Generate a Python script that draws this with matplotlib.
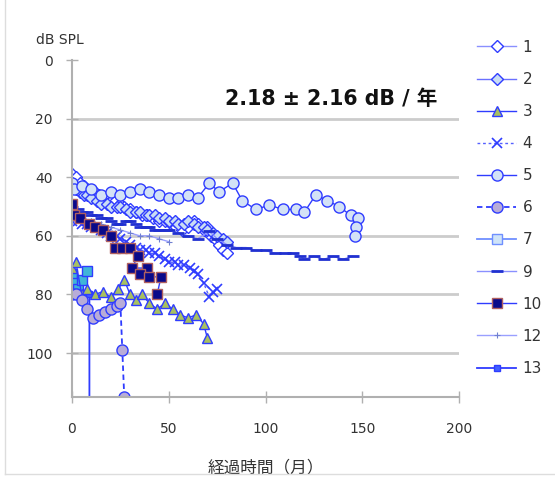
import matplotlib
matplotlib.use("Agg")
import matplotlib.pyplot as plt
from matplotlib.lines import Line2D

plt.rcParams['font.family'] = ['DejaVu Sans', 'Noto Sans CJK JP']

# months / dB SPL for each ear
x1 = [0, 2, 4, 6, 8, 10, 12, 14, 17, 20, 22, 25, 27, 30, 33, 36, 39, 42, 45, 48,
      51, 54, 57, 60, 63, 65, 68, 70, 72, 74, 76, 78, 80]
y1 = [39, 40, 42, 43, 44, 45, 45, 46, 47, 48, 48, 49, 50, 51, 52, 53, 53, 54, 55, 55,
      56, 57, 58, 57, 55, 56, 58, 57, 60, 61, 63, 65, 66]
x2 = [0, 2, 4, 6, 8, 10, 13, 15, 18, 20, 23, 25, 28, 30, 33, 35, 38, 40, 43, 45,
      48, 50, 53, 55, 58, 60, 63, 65, 68, 70, 73, 75, 78, 80]
y2 = [42, 44, 45, 46, 46, 47, 48, 49, 49, 50, 50, 50, 51, 52, 52, 52, 53, 53, 53, 54,
      54, 55, 55, 56, 56, 55, 56, 57, 57, 58, 59, 60, 61, 62]
x3 = [0, 2, 5, 8, 12, 16, 20, 24, 27, 30, 33, 36, 40, 44, 48, 52, 56, 60, 64, 68, 70]
y3 = [71, 69, 80, 78, 80, 79, 81, 78, 75, 80, 82, 80, 83, 85, 83, 85, 87, 88, 87, 90, 95]
x4 = [0, 3, 5, 8, 10, 13, 15, 18, 20, 23, 25, 28, 30, 33, 35, 38, 40, 43, 45, 48,
      50, 53, 55, 58, 61, 63, 65, 68, 71, 73, 75]
y4 = [55, 55, 56, 56, 57, 57, 58, 59, 60, 60, 61, 62, 63, 64, 65, 65, 66, 66, 67, 68,
      69, 69, 70, 70, 71, 72, 73, 76, 81, 79, 78]
x5 = [0, 1, 5, 10, 15, 20, 25, 30, 35, 40, 45, 50, 55, 60, 65, 71, 76, 83, 88,
      95, 102, 109, 116, 120, 126, 132, 138, 144, 148, 147, 146]
y5 = [42, 44, 43, 44, 46, 45, 46, 45, 44, 45, 46, 47, 47, 46, 47, 42, 45, 42, 48,
      51, 49.5, 51, 51, 52, 46, 48, 50, 53, 54, 57, 60]
x6 = [0, 2, 5, 8, 11, 14, 17, 20, 23, 25, 26, 27]
y6 = [80, 80, 82, 85, 88, 87, 86, 85, 84, 83, 99, 115]
x7 = [0, 1, 3, 5, 8]
y7 = [73, 76, 78, 75, 72]
x9 = [0, 3, 5, 8, 10, 13, 15, 18, 20, 23, 25, 28, 30, 33, 35, 38, 40, 43, 45, 48,
      50, 55, 60, 65, 71, 75, 80, 85, 90, 95, 100, 105, 110, 114, 118, 120, 125,
      130, 135, 140, 145]
y9 = [50, 51, 52, 52, 53, 53, 54, 54, 55, 56, 56, 55, 55, 56, 57, 57, 57, 58, 58, 58,
      58, 59, 60, 61, 58.5, 61, 63, 64, 64, 65, 65, 66, 66, 66, 67, 68, 67,
      68, 67, 68, 67]
x10 = [0, 1, 4, 9, 12, 16, 20, 22, 26, 30, 34, 31, 39, 35, 40, 46, 44]
y10 = [49, 53, 54, 56, 57, 58, 60, 64, 64, 64, 67, 71, 71, 73, 74, 74, 80]
x12 = [0, 5, 10, 15, 20, 25, 30, 35, 40, 45, 50]
y12 = [53, 54, 55, 56, 57, 58, 59, 60, 60, 61, 62]
x13 = [0, 2, 5, 9, 9]
y13 = [80, 79, 80, 80, 125]

labels = ["1", "2", "3", "4", "5", "6", "7", "9", "10", "12", "13"]
xticks = [0, 50, 100, 150, 200]
yticks = [0, 20, 40, 60, 80, 100]

fig = plt.figure(figsize=(5.55, 4.79), dpi=100)
ax = fig.add_axes([72/555, 1-397/479, (459-72)/555, (397-60)/479])

blue = "#2f3cff"
h1, = ax.plot(x1, y1, color="#8a90ff", lw=1, marker="D", ms=6, mfc="white", mec=blue, mew=1)
h2, = ax.plot(x2, y2, color="#6a70ff", lw=1, marker="D", ms=6, mfc="#c9dcf4", mec=blue, mew=1)
h4, = ax.plot(x4, y4, color="#5560ff", lw=1, ls=(0, (2, 2)), marker="x", ms=7, mec=blue, mew=1.2)
h5, = ax.plot(x5, y5, color=blue, lw=1, marker="o", ms=8, mfc="#d3e2f6", mec=blue, mew=1)
h9, = ax.plot(x9, y9, color="#8a90ff", lw=1, marker="_", ms=9, mec="#2030d0", mew=2)
h12, = ax.plot(x12, y12, color="#9aa0ff", lw=1, marker="+", ms=4, mec="#7080d0", mew=0.8)
h7, = ax.plot(x7, y7, color=blue, lw=1, marker="s", ms=6.5, mfc="#3fb5d8", mec=blue, mew=1)
h13, = ax.plot(x13, y13, color=blue, lw=1.3, marker="s", ms=4, mfc="#4060ff", mec=blue)
h3, = ax.plot(x3, y3, color=blue, lw=1, marker="^", ms=7, mfc="#a8c060", mec=blue, mew=1)
h6, = ax.plot(x6, y6, color=blue, lw=1.3, ls=(0, (3, 2)), marker="o", ms=8, mfc="#b8acd8", mec=blue, mew=1)
h10, = ax.plot(x10, y10, color=blue, lw=1, marker="s", ms=7, mfc="#0a0a8a", mec="#b06060", mew=1)

h7_leg = Line2D([], [], color="#6f8fff", lw=1.3, marker="s", ms=7, mfc="#cfe4f8", mec="#6f8fff")
leg_handles = [h1, h2, h3, h4, h5, h6, h7_leg, h9, h10, h12, h13]

for v in [20, 40, 60, 80, 100]:
    ax.axhline(v, color="#cccccc", lw=2, zorder=0)

ax.set_xlim(0, 200)
ax.set_ylim(115, 0)
ax.set_xticks(xticks)
ax.set_yticks(yticks)
for s in ["top", "right"]:
    ax.spines[s].set_visible(False)
for s in ["left", "bottom"]:
    ax.spines[s].set_color("#b0b0b0")
    ax.spines[s].set_linewidth(1.5)
ax.tick_params(axis="both", direction="inout", length=8, width=1, color="#b0b0b0",
               labelsize=10, labelcolor="#333333")
ax.tick_params(axis="y", pad=10)
ax.tick_params(axis="x", pad=14)

ax.set_xlabel("経過時間（月）", fontsize=12, color="#333333", labelpad=17,
              family=["Noto Sans CJK JP", "DejaVu Sans"])
fig.text(36/555, 1-40/479, "dB SPL", fontsize=10, color="#333333", va="center")
ax.text(0.395, 0.885, "2.18 ± 2.16 dB / 年", transform=ax.transAxes,
        fontsize=14.8, fontweight="bold", color="#111111", va="center")

fig.legend(leg_handles, labels, loc="upper left", bbox_to_anchor=(463/555, 1-26/479),
           frameon=False, fontsize=11, labelspacing=1.12, handlelength=2.6,
           handletextpad=0.4, labelcolor="#333333")

fig.add_artist(Line2D([5/555, 5/555], [0.01, 1], color="#dddddd", lw=1))
fig.add_artist(Line2D([5/555, 1], [0.01, 0.01], color="#dddddd", lw=1))

fig.savefig("out.png", dpi=100)
